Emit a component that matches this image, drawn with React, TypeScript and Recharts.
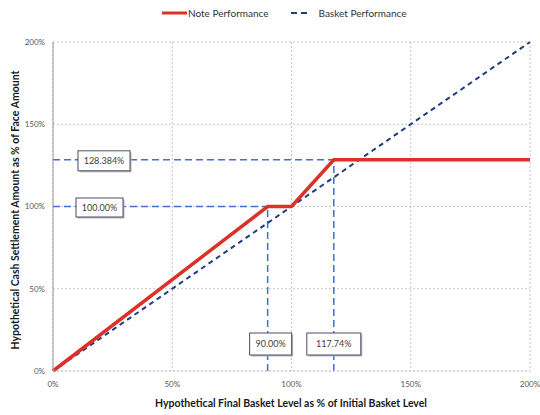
import React from 'react';
import { LineChart, Line, XAxis, YAxis, CartesianGrid, ReferenceLine } from 'recharts';

// ---- data ----
const basketLevels = [0, 90, 100, 117.74, 200];
const noteValues = [0, 100, 100, 128.384, 128.384];
const basketRefLevels = [0, 200];
const basketRefValues = [0, 200];
const axisTicks = [0, 50, 100, 150, 200];
const thresholdLevel = 90;
const floorValue = 100;
const capLevel = 117.74;
const capValue = 128.384;
const seriesNames = ['Note Performance', 'Basket Performance'];

const noteData = basketLevels.map((x, i) => ({ x, y: noteValues[i] }));
const basketData = basketRefLevels.map((x, i) => ({ x, y: basketRefValues[i] }));

const FONT = 'Lato, "Open Sans", "DejaVu Sans", sans-serif';
const RED = '#DC3129';
const NAVY = '#1F3C7C';
const GUIDE = '#3F6FD0';

const pct = (v: number) => `${v}%`;

function BoxText({ cx, cy, w, h, text }: { cx: number; cy: number; w: number; h: number; text: string }) {
  return (
    <g>
      <rect x={cx - w / 2 + 1.5} y={cy - h / 2 + 1.5} width={w} height={h} fill="#b8b8b8" />
      <rect x={cx - w / 2} y={cy - h / 2} width={w} height={h} fill="#ffffff" stroke="#4b4b6b" strokeWidth={1} />
      <text x={cx} y={cy} dy="0.35em" textAnchor="middle" fontFamily={FONT} fontSize={9} fill="#404040">
        {text}
      </text>
    </g>
  );
}

const hLabel = (text: string, offset: number, w: number, h: number) => (p: any) => {
  const vb = p.viewBox || {};
  return <BoxText cx={vb.x + offset + w / 2} cy={vb.y + 1} w={w} h={h} text={text} />;
};

const vLabel = (text: string, shift: number, w: number, h: number) => (p: any) => {
  const vb = p.viewBox || {};
  const bottom = vb.y + vb.height;
  return <BoxText cx={vb.x + shift} cy={bottom - 27} w={w} h={h} text={text} />;
};

function LegendBar() {
  return (
    <div
      style={{
        position: 'absolute',
        top: 7,
        left: 162,
        display: 'flex',
        alignItems: 'center',
        fontFamily: FONT,
        fontSize: 10,
        color: '#333',
        whiteSpace: 'nowrap',
      }}
    >
      <svg width={26} height={12}>
        <line x1={0} y1={6} x2={25} y2={6} stroke={RED} strokeWidth={3} />
      </svg>
      <span>{seriesNames[0]}</span>
      <svg width={18} height={12} style={{ marginLeft: 22 }}>
        <line x1={0} y1={6} x2={17} y2={6} stroke={NAVY} strokeWidth={2} strokeDasharray="6 4" />
      </svg>
      <span style={{ marginLeft: 10 }}>{seriesNames[1]}</span>
    </div>
  );
}

export default function App() {
  return (
    <div style={{ position: 'absolute', left: 0, top: 0, width: 540, height: 415, background: '#fff' }}>
      <LegendBar />
      <LineChart width={540} height={415} margin={{ top: 42, right: 10, bottom: 14, left: 13 }}>
        <CartesianGrid stroke="#c4c4c4" strokeDasharray="2 2" />
        <XAxis
          type="number"
          dataKey="x"
          domain={[0, 200]}
          ticks={axisTicks}
          tickFormatter={pct}
          height={30}
          tickLine={false}
          tickMargin={4}
          axisLine={{ stroke: '#c4c4c4', strokeDasharray: '2 2' }}
          tick={{ fontFamily: FONT, fontSize: 8, fill: '#595959' }}
          label={(p: any) => (
            <text x={291} y={403} dy="0.35em" textAnchor="middle" fontFamily={FONT} fontSize={10.5} fontWeight="bold" fill="#1a1a1a">
              Hypothetical Final Basket Level as % of Initial Basket Level
            </text>
          )}
        />
        <YAxis
          type="number"
          dataKey="y"
          domain={[0, 200]}
          ticks={axisTicks}
          tickFormatter={pct}
          width={40}
          tickLine={false}
          axisLine={{ stroke: '#9a9a9a' }}
          tick={{ fontFamily: FONT, fontSize: 8, fill: '#595959' }}
          label={(p: any) => (
            <text x={15} y={210} dy="0.35em" textAnchor="middle" transform="rotate(-90 15 210)" fontFamily={FONT} fontSize={10.5} fontWeight="bold" fill="#1a1a1a">
              Hypothetical Cash Settlement Amount as % of Face Amount
            </text>
          )}
        />
        <ReferenceLine
          segment={[{ x: 0, y: capValue }, { x: capLevel, y: capValue }]}
          stroke={GUIDE}
          strokeWidth={1.5}
          strokeDasharray="7 4"
          label={hLabel(`${capValue.toFixed(3)}%`, 25, 52, 20)}
        />
        <ReferenceLine
          segment={[{ x: 0, y: floorValue }, { x: thresholdLevel, y: floorValue }]}
          stroke={GUIDE}
          strokeWidth={1.5}
          strokeDasharray="7 4"
          label={hLabel(`${floorValue.toFixed(2)}%`, 23, 47, 19)}
        />
        <ReferenceLine
          segment={[{ x: thresholdLevel, y: 0 }, { x: thresholdLevel, y: floorValue }]}
          stroke={GUIDE}
          strokeWidth={1.5}
          strokeDasharray="7 4"
          label={vLabel(`${thresholdLevel.toFixed(2)}%`, 3, 42, 22)}
        />
        <ReferenceLine
          segment={[{ x: capLevel, y: 0 }, { x: capLevel, y: capValue }]}
          stroke={GUIDE}
          strokeWidth={1.5}
          strokeDasharray="7 4"
          label={vLabel(`${capLevel.toFixed(2)}%`, 0, 54, 22)}
        />
        <Line
          data={basketData}
          dataKey="y"
          name={seriesNames[1]}
          stroke={NAVY}
          strokeWidth={2}
          strokeDasharray="5 4"
          dot={false}
          activeDot={false}
          isAnimationActive={false}
        />
        <Line
          data={noteData}
          dataKey="y"
          name={seriesNames[0]}
          stroke={RED}
          strokeWidth={3.5}
          dot={false}
          activeDot={false}
          isAnimationActive={false}
        />
      </LineChart>
    </div>
  );
}
